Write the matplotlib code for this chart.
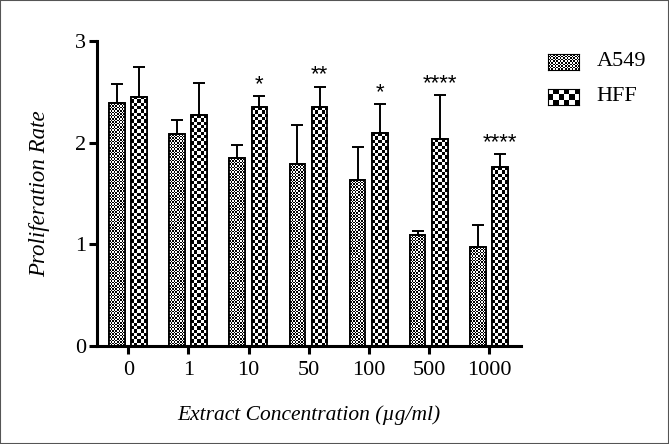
import matplotlib.pyplot as plt
import numpy as np
from matplotlib.colors import ListedColormap
from matplotlib.patches import Rectangle

concs = ['0', '1', '10', '50', '100', '500', '1000']
a549 = [2.39, 2.08, 1.85, 1.79, 1.63, 1.09, 0.97]
a549_err = [0.19, 0.14, 0.13, 0.38, 0.33, 0.04, 0.22]
hff = [2.45, 2.27, 2.35, 2.35, 2.09, 2.03, 1.76]
hff_err = [0.29, 0.32, 0.11, 0.20, 0.29, 0.44, 0.13]
stars = ['', '', '*', '**', '*', '****', '****']

plt.rcParams['font.family'] = 'Liberation Serif'
cmap = ListedColormap(['white', 'black'])

def checker(nx, ny):
    i, j = np.indices((ny, nx))
    return (i + j) % 2

fig = plt.figure(figsize=(6.69, 4.44), dpi=100)
ax = fig.add_axes([0.145, 0.221, 0.634, 0.687])

x = np.arange(len(concs))
w = 0.26
px_per_unit = 0.687 * 444 / 3
bar_px = w * 0.634 * 669 / 7.05

def draw_bars(xpos, vals, errs, cell):
    bars = ax.bar(xpos, vals, w, color='white', edgecolor='black', linewidth=1.2, zorder=1)
    for b, v in zip(bars, vals):
        nx = max(1, int(round(bar_px / cell)))
        ny = max(1, int(round(v * px_per_unit / cell)))
        x0 = b.get_x()
        im = ax.imshow(checker(nx, ny), cmap=cmap, extent=[x0, x0 + w, 0, v],
                       interpolation='nearest', aspect='auto', zorder=2, origin='lower')
        im.set_clip_path(b)
    ax.bar(xpos, vals, w, fill=False, edgecolor='black', linewidth=1.3, zorder=3)
    ax.errorbar(xpos, vals, yerr=[np.zeros(len(vals)), errs], fmt='none', ecolor='black',
                elinewidth=1.4, capsize=4, capthick=1.4, zorder=3)

draw_bars(x - 0.19, a549, a549_err, 1.6)
draw_bars(x + 0.18, hff, hff_err, 3.3)

for xi, v, e, s in zip(x, hff, hff_err, stars):
    if s:
        ax.text(xi + 0.18, v + e + 0.01, s, ha='center', va='bottom',
                fontsize=16, family='Liberation Sans')

ax.set_xlim(-0.52, 6.53)
ax.set_ylim(0, 3)
ax.set_yticks([0, 1, 2, 3])
ax.set_xticks(x)
ax.set_xticklabels(concs)
ax.tick_params(labelsize=16, width=2.2, length=6)
ax.tick_params(axis='y', pad=2)
ax.tick_params(axis='x', pad=5)
ax.spines['top'].set_visible(False)
ax.spines['right'].set_visible(False)
ax.spines['left'].set_linewidth(2.2)
ax.spines['bottom'].set_linewidth(2.2)
ax.set_ylabel('Proliferation Rate', fontsize=16.5, style='italic', labelpad=18)
ax.set_xlabel('Extract Concentration (µg/ml)', fontsize=15.5, style='italic', labelpad=18)

# legend drawn by hand
for yb, cell, label in [(0.843, 1.6, 'A549'), (0.764, 5.0, 'HFF')]:
    lax = fig.add_axes([0.819, yb, 0.047, 0.036])
    lax.imshow(checker(int(round(31 / cell)), int(round(16 / cell))), cmap=cmap,
               interpolation='nearest', aspect='auto')
    lax.set_xticks([])
    lax.set_yticks([])
    for s in lax.spines.values():
        s.set_linewidth(0.8)
    fig.text(0.892, yb + 0.018, label, fontsize=16, va='center')

fig.patches.append(Rectangle((0, 0), 1, 1, transform=fig.transFigure, fill=False,
                             edgecolor='#555555', linewidth=1.5))

fig.savefig('out.png', dpi=100)
